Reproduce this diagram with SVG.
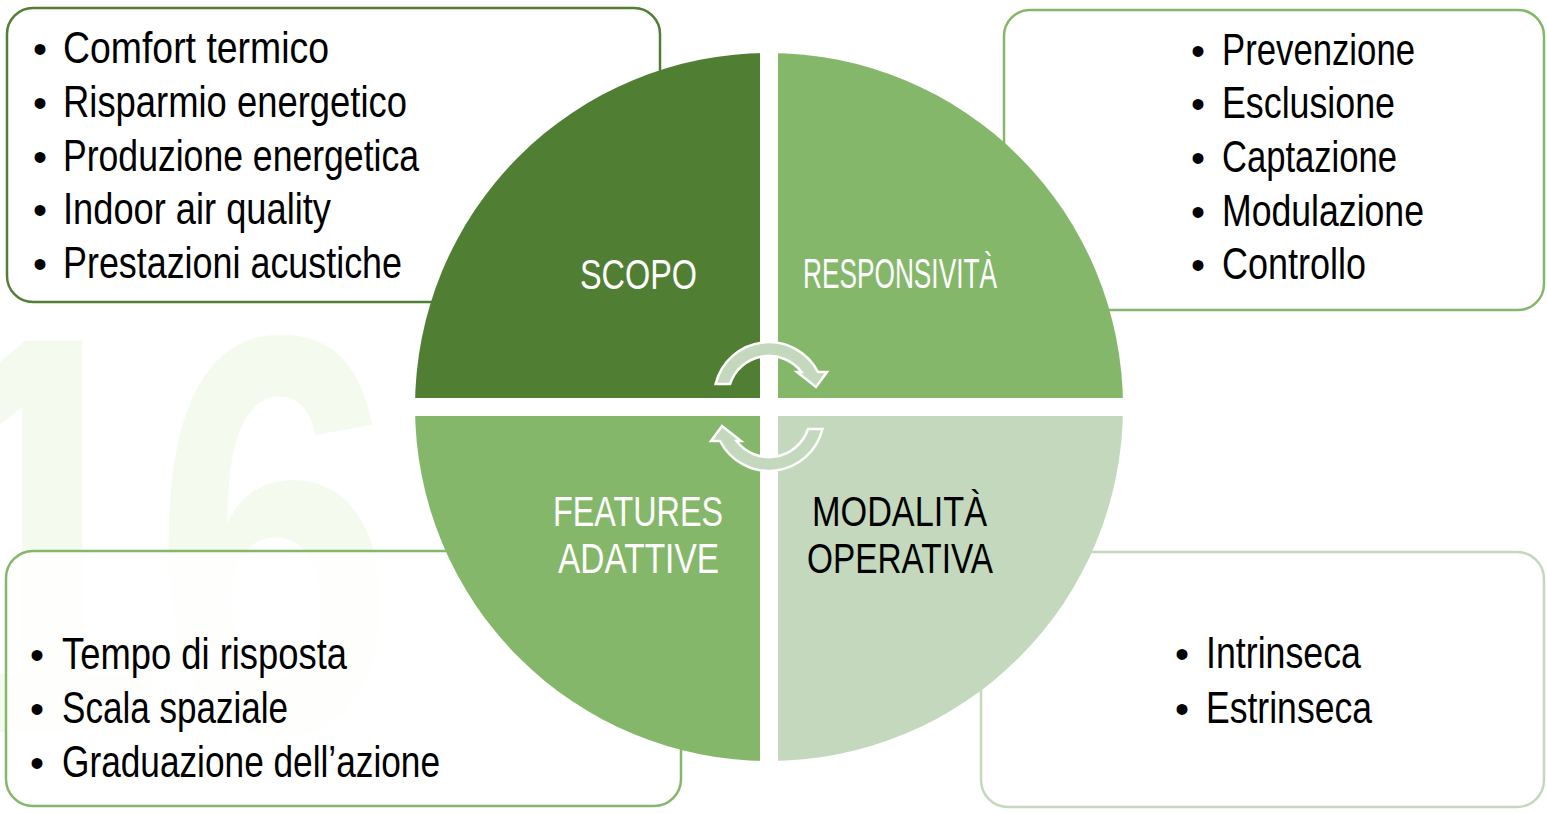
<svg xmlns="http://www.w3.org/2000/svg" width="1547" height="814" viewBox="0 0 1547 814">
<style>
.t{font-family:"Liberation Sans Narrow","Liberation Sans",Arial,sans-serif;font-size:44px;fill:#000}
.b{font-family:"Liberation Sans",Arial,sans-serif;font-size:40px;fill:#000;text-anchor:middle}
.q{font-family:"Liberation Sans Narrow","Liberation Sans",Arial,sans-serif;font-size:42px;fill:#fff}
.box{stroke-width:2.5}
.arr{fill:#c3d8bc;stroke:#fff;stroke-width:2.5;stroke-linejoin:miter}
</style>
<defs>
<clipPath id="circ"><circle cx="769" cy="407" r="354"/></clipPath>
<path id="arrow" d="M 715.6 384 A 55 55 0 0 1 818 372 L 827 372 L 816 387 L 797 372 L 801.5 372 A 41 41 0 0 0 730 384 Z"/>
</defs>
<rect width="1547" height="814" fill="#fff"/>
<g id="watermark">
<text transform="scale(0.77 1)" x="-104 198" y="732" font-family="Liberation Sans, Arial, sans-serif" font-weight="bold" font-size="569" fill="#f5faef">16</text>
</g>
<g id="box-scopo">
<rect class="box" x="7" y="8" width="653" height="294" rx="26" fill="#fff" stroke="#507f33"/>
<text class="b" x="40" y="63">•</text><text class="t" x="63" y="63" textLength="266" lengthAdjust="spacingAndGlyphs">Comfort termico</text>
<text class="b" x="40" y="117">•</text><text class="t" x="63" y="117" textLength="344" lengthAdjust="spacingAndGlyphs">Risparmio energetico</text>
<text class="b" x="40" y="171">•</text><text class="t" x="63" y="171" textLength="356" lengthAdjust="spacingAndGlyphs">Produzione energetica</text>
<text class="b" x="40" y="224">•</text><text class="t" x="63" y="224" textLength="268" lengthAdjust="spacingAndGlyphs">Indoor air quality</text>
<text class="b" x="40" y="278">•</text><text class="t" x="63" y="278" textLength="339" lengthAdjust="spacingAndGlyphs">Prestazioni acustiche</text>
</g>
<g id="box-responsivita">
<rect class="box" x="1004" y="10" width="540" height="300" rx="26" fill="#fff" stroke="#85b76b"/>
<text class="b" x="1198" y="65">•</text><text class="t" x="1222" y="65" textLength="193" lengthAdjust="spacingAndGlyphs">Prevenzione</text>
<text class="b" x="1198" y="118">•</text><text class="t" x="1222" y="118" textLength="173" lengthAdjust="spacingAndGlyphs">Esclusione</text>
<text class="b" x="1198" y="172">•</text><text class="t" x="1222" y="172" textLength="175" lengthAdjust="spacingAndGlyphs">Captazione</text>
<text class="b" x="1198" y="226">•</text><text class="t" x="1222" y="226" textLength="202" lengthAdjust="spacingAndGlyphs">Modulazione</text>
<text class="b" x="1198" y="279">•</text><text class="t" x="1222" y="279" textLength="144" lengthAdjust="spacingAndGlyphs">Controllo</text>
</g>
<g id="box-features">
<rect class="box" x="6" y="551" width="675" height="255" rx="27" fill="#fff" fill-opacity="0.85" stroke="#85b76b"/>
<text class="b" x="37" y="669">•</text><text class="t" x="62" y="669" textLength="285" lengthAdjust="spacingAndGlyphs">Tempo di risposta</text>
<text class="b" x="37" y="723">•</text><text class="t" x="62" y="723" textLength="226" lengthAdjust="spacingAndGlyphs">Scala spaziale</text>
<text class="b" x="37" y="777">•</text><text class="t" x="62" y="777" textLength="378" lengthAdjust="spacingAndGlyphs">Graduazione dell’azione</text>
</g>
<g id="box-modalita">
<rect class="box" x="981" y="552" width="563" height="255" rx="27" fill="#fff" stroke="#c3d8bc"/>
<text class="b" x="1182" y="668">•</text><text class="t" x="1206" y="668" textLength="155" lengthAdjust="spacingAndGlyphs">Intrinseca</text>
<text class="b" x="1182" y="723">•</text><text class="t" x="1206" y="723" textLength="166" lengthAdjust="spacingAndGlyphs">Estrinseca</text>
</g>
<g id="circle" clip-path="url(#circ)">
<rect id="q-scopo" x="400" y="40" width="360" height="358" fill="#507f33"/>
<rect id="q-responsivita" x="778" y="40" width="360" height="358" fill="#85b76b"/>
<rect id="q-features" x="400" y="416" width="360" height="360" fill="#85b76b"/>
<rect id="q-modalita" x="778" y="416" width="360" height="360" fill="#c3d8bc"/>
</g>
<g id="connectors">
<use href="#arrow" class="arr"/>
<use href="#arrow" class="arr" transform="rotate(180 769 406.5)"/>
</g>
<g id="labels">
<text class="q" x="580" y="289" textLength="117" lengthAdjust="spacingAndGlyphs">SCOPO</text>
<text class="q" x="803" y="288" textLength="194" lengthAdjust="spacingAndGlyphs">RESPONSIVITÀ</text>
<text class="q" x="553" y="526" textLength="170" lengthAdjust="spacingAndGlyphs">FEATURES</text>
<text class="q" x="558" y="573" textLength="161" lengthAdjust="spacingAndGlyphs">ADATTIVE</text>
<text class="q" x="812" y="526" textLength="175" lengthAdjust="spacingAndGlyphs" style="fill:#000">MODALITÀ</text>
<text class="q" x="807" y="573" textLength="186" lengthAdjust="spacingAndGlyphs" style="fill:#000">OPERATIVA</text>
</g>
</svg>
